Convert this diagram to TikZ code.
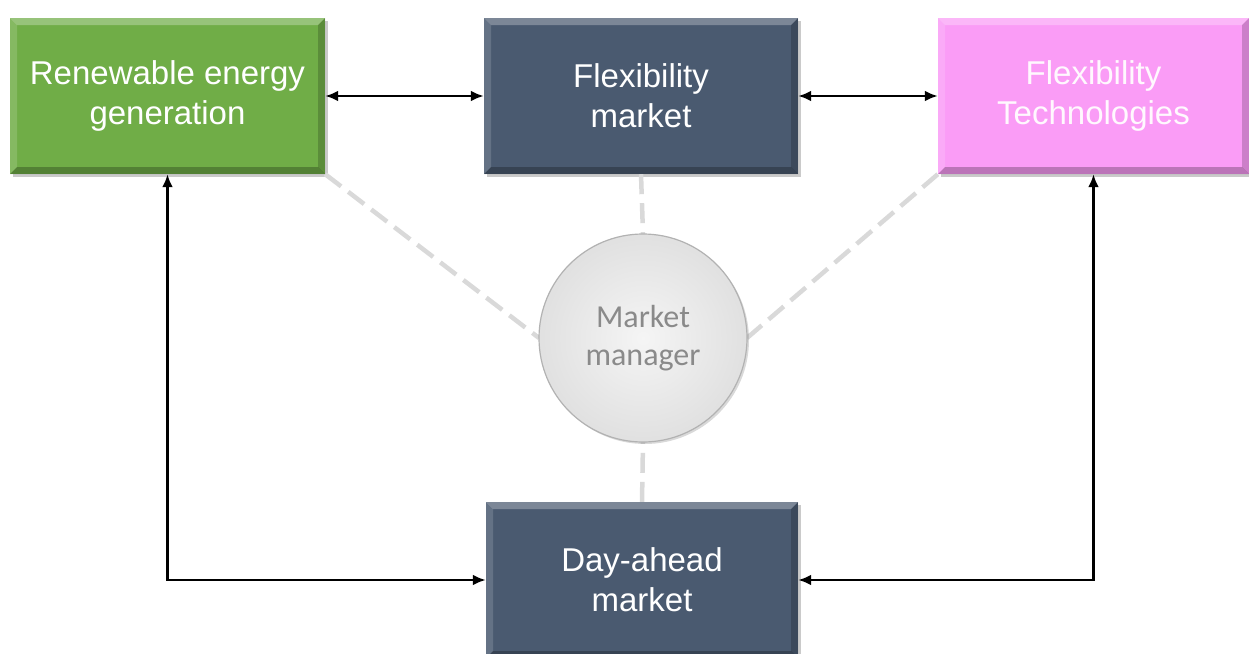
\documentclass[tikz,border=0pt]{standalone}
\usepackage{fontspec}
\setmainfont{Liberation Sans}
\newfontfamily\circlefont{Carlito}
\usetikzlibrary{arrows.meta,calc,shadows}
\definecolor{leafgreen}{HTML}{70AD47}
\definecolor{slateblue}{HTML}{4A5A70}
\definecolor{orchidpink}{HTML}{FA9CF6}
\definecolor{linkgray}{HTML}{D9D9D9}
\definecolor{mgrtext}{HTML}{8A8A8A}
\tikzset{
  bevel/.style={path picture={
    \fill[white,opacity=0.28] (path picture bounding box.north west) -- (path picture bounding box.north east)
      -- ($(path picture bounding box.north east)+(-7,7)$) -- ($(path picture bounding box.north west)+(7,7)$) -- cycle;
    \fill[white,opacity=0.15] (path picture bounding box.north west) -- (path picture bounding box.south west)
      -- ($(path picture bounding box.south west)+(7,-7)$) -- ($(path picture bounding box.north west)+(7,7)$) -- cycle;
    \fill[black,opacity=0.25] (path picture bounding box.south west) -- (path picture bounding box.south east)
      -- ($(path picture bounding box.south east)+(-7,-7)$) -- ($(path picture bounding box.south west)+(7,-7)$) -- cycle;
    \fill[black,opacity=0.18] (path picture bounding box.north east) -- (path picture bounding box.south east)
      -- ($(path picture bounding box.south east)+(-7,-7)$) -- ($(path picture bounding box.north east)+(-7,7)$) -- cycle;
  }},
  block/.style={rectangle, bevel, inner sep=0pt, text=white, align=center,
    font=\fontsize{33}{40}\selectfont,
    drop shadow={shadow xshift=3pt, shadow yshift=-3pt, opacity=0.35, fill=black!60}},
  link/.style={draw=black, line width=2.8pt, {Latex[length=13pt,width=11pt]}-{Latex[length=13pt,width=11pt]}},
  helper/.style={draw=linkgray, line width=4.5pt, dash pattern=on 20pt off 9pt},
  manager/.style={circle, minimum size=208pt, inner sep=0pt, align=center,
    inner color=gray!8, outer color=gray!24, text=mgrtext,
    font=\circlefont\fontsize{32}{38}\selectfont,
    drop shadow={shadow xshift=2pt, shadow yshift=-2pt, opacity=0.3, fill=black!50}}
}
\begin{document}
\begin{tikzpicture}[x=1pt,y=-1pt]
  \useasboundingbox (0,0) rectangle (1249,653);

  % main blocks
  \node[block, fill=leafgreen, minimum width=315pt, minimum height=156pt] (gen) at (167.5,96) {Renewable energy\\generation};
  \node[block, fill=slateblue, minimum width=314pt, minimum height=156pt] (flex) at (641,96) {Flexibility\\market};
  \node[block, fill=orchidpink, text=white!93!orchidpink, minimum width=311pt, minimum height=156pt] (tech) at (1093.5,96) {Flexibility\\Technologies};
  \node[block, fill=slateblue, minimum width=312pt, minimum height=156pt] (dam) at (642,580) {Day-ahead\\market};

  % market manager hub
  \coordinate (mmc) at (643,338);

  % dashed links to the hub
  \draw[helper] (gen.south east) -- ($(mmc)+(-104,0)$);
  \draw[helper] (tech.south west) -- ($(mmc)+(104,0)$);
  \draw[helper] (flex.south) -- ($(mmc)+(0,-104)$);
  \draw[helper] (dam.north) -- ($(mmc)+(0,104)$);

  \node[manager, draw=gray!60, line width=1.2pt] (mm) at (mmc) {Market\\manager};

  % exchanges between blocks
  \draw[link] (gen.east) -- (flex.west);
  \draw[link] (flex.east) -- (tech.west);
  \draw[link] (gen.south) |- (dam.west);
  \draw[link] (tech.south) |- (dam.east);
\end{tikzpicture}
\end{document}
